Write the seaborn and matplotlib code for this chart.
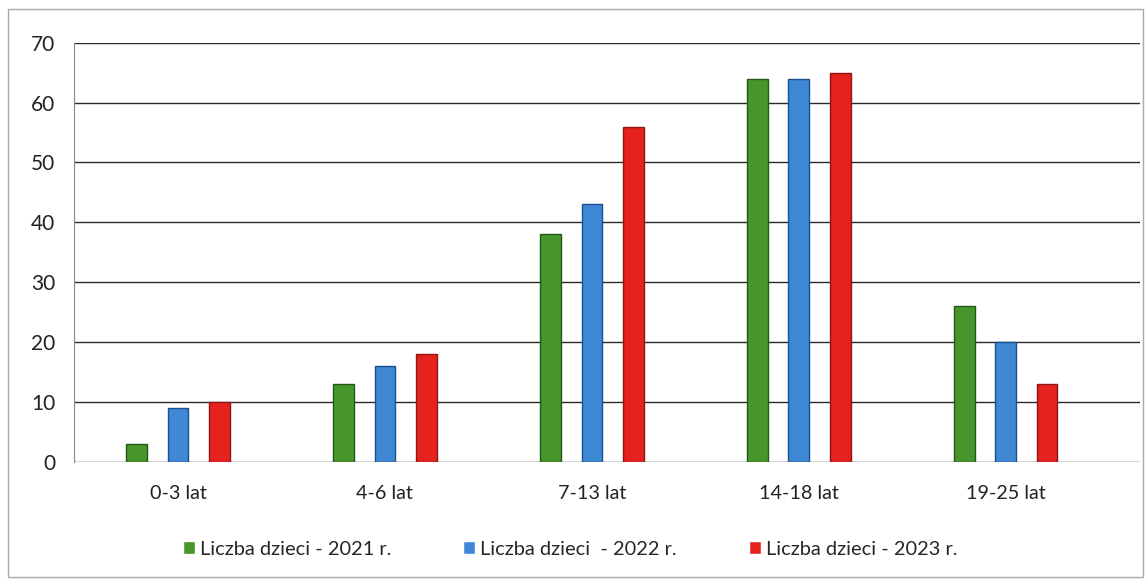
import pandas as pd
import seaborn as sns
import matplotlib.pyplot as plt
from matplotlib.patches import Rectangle

# data
age_groups = ["0-3 lat", "4-6 lat", "7-13 lat", "14-18 lat", "19-25 lat"]
series_names = [
    "Liczba dzieci - 2021 r.",
    "Liczba dzieci  - 2022 r.",
    "Liczba dzieci - 2023 r.",
]
kids_2021 = [3, 13, 38, 64, 26]
kids_2022 = [9, 16, 43, 64, 20]
kids_2023 = [10, 18, 56, 65, 13]
y_ticks = [0, 10, 20, 30, 40, 50, 60, 70]

colors = ["#47962b", "#3f88d6", "#e5221e"]
edges = ["#24561a", "#1d4f8c", "#8e1512"]

df = pd.DataFrame(
    {
        "group": age_groups * 3,
        "series": [s for s in series_names for _ in age_groups],
        "value": kids_2021 + kids_2022 + kids_2023,
    }
)

sns.set_style("white")
plt.rcParams["font.family"] = ["Lato", "DejaVu Sans"]

fig = plt.figure(figsize=(11.46, 5.83), dpi=100)
ax = fig.add_axes([0.065, 0.207, 0.93, 0.72])

sns.barplot(
    data=df,
    x="group",
    y="value",
    hue="series",
    palette=colors,
    width=0.6,
    gap=0.5,
    errorbar=None,
    saturation=1,
    ax=ax,
    zorder=3,
)

# edge colours per series
for container, ec in zip(ax.containers, edges):
    for bar in container:
        bar.set_edgecolor(ec)
        bar.set_linewidth(1.0)

ax.set_ylim(0, 70)
ax.set_xlim(-0.5, 4.65)
ax.set_yticks(y_ticks)
ax.set_yticklabels([str(t) for t in y_ticks], fontsize=15, color="#222222")
ax.tick_params(axis="y", length=9, width=0.8, color="#888888", pad=5)
ax.tick_params(axis="x", labelsize=14.2, length=0, pad=16, colors="#222222")
for t in y_ticks:
    ax.axhline(t, color="#2a2a2a", lw=1.0, zorder=1)

# small category boundary ticks
ax.set_xticks([0.5, 1.5, 2.5, 3.5], minor=True)
ax.tick_params(axis="x", which="minor", length=5, color="#bbbbbb", width=0.8)

ax.set_xlabel("")
ax.set_ylabel("")
for side in ["top", "right", "bottom"]:
    ax.spines[side].set_visible(False)
ax.spines["left"].set_color("#888888")
ax.spines["left"].set_linewidth(0.8)

handles, labels = ax.get_legend_handles_labels()
ax.legend(
    handles,
    labels,
    loc="lower center",
    bbox_to_anchor=(0.465, -0.27),
    ncol=3,
    frameon=False,
    fontsize=14.4,
    handlelength=0.6,
    handleheight=0.6,
    handletextpad=0.25,
    columnspacing=3.6,
)

# outer frame of the chart
fig.patches.append(
    Rectangle((0.007, 0.01), 0.99, 0.975, transform=fig.transFigure,
              fill=False, edgecolor="#aaaaaa", lw=1.0)
)

fig.savefig("out.png", dpi=100)
